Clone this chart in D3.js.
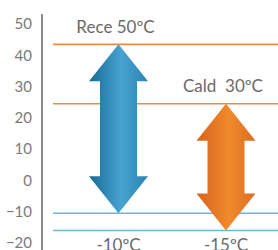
<!DOCTYPE html>
<html>
<head>
<meta charset="utf-8">
<script src="https://cdn.jsdelivr.net/npm/d3@7"></script>
<style>
  body { margin: 0; background: #fff; }
  svg { display: block; }
</style>
</head>
<body>
<svg class="chart-range" width="278" height="250"></svg>
<script>
// data
var names = ["Rece", "Cald"];
var labelTop = ["Rece 50ºC", "Cald\u00a0\u00a030ºC"];
var labelBottom = ["-10ºC", "-15ºC"];
var arrowTop = [43.5, 24.5];      // where the arrow tips / lines sit
var arrowBottom = [-10.5, -16];
var lineColor = ["#ef8a3c", "#6cb6dc"];
var yTicks = [50, 40, 30, 20, 10, 0, -10, -20];

var svg = d3.select("svg.chart-range");

var y = d3.scaleLinear().domain([50, -20]).range([24, 243]);
var x = d3.scalePoint().domain(names).range([118.5, 226]);

/* gradients for the arrows */
var defs = svg.append("defs");
function grad(id, c1, c2, c3) {
    var g = defs.append("linearGradient").attr("id", id)
        .attr("x1", "0%").attr("x2", "100%").attr("y1", "0%").attr("y2", "0%");
    g.append("stop").attr("offset", "0%").attr("stop-color", c1);
    g.append("stop").attr("offset", "55%").attr("stop-color", c2);
    g.append("stop").attr("offset", "100%").attr("stop-color", c3);
}
grad("g-rece", "#176b96", "#48a3d0", "#2a83b2");
grad("g-cald", "#d8621e", "#f08a2a", "#dd6c22");

/* axis */
var axis = d3.axisLeft(y).tickValues(yTicks).tickSize(0).tickPadding(10);
var ax = svg.append("g").attr("transform", "translate(42,0)").call(axis);
ax.select(".domain").remove();
ax.selectAll("text")
    .attr("font-family", "Lato, sans-serif")
    .attr("font-size", 15)
    .attr("fill", "#7a7a7a");
svg.append("line")
    .attr("x1", 42).attr("x2", 42).attr("y1", 14).attr("y2", 250)
    .attr("stroke", "#8c8c8c").attr("stroke-width", 2);

/* reference lines */
var lines = [];
names.forEach(function (n, i) {
    lines.push({ v: arrowTop[i], c: "#ef8a3c" });
});
lines.push({ v: arrowBottom[0], c: "#6cb6dc" });
lines.push({ v: arrowBottom[1], c: "#6cb6dc" });
svg.selectAll("line.ref").data(lines).enter()
    .append("line").attr("class", "ref")
    .attr("x1", 53).attr("x2", 278)
    .attr("y1", function (d) { return y(d.v); })
    .attr("y2", function (d) { return y(d.v); })
    .attr("stroke", function (d) { return d.c; })
    .attr("stroke-width", 1.6);

/* double arrows */
var headH = 37, headW = 29.5, shaftW = 18.5;
svg.selectAll("polygon.arrow").data(names).enter()
    .append("polygon").attr("class", "arrow")
    .attr("points", function (d, i) {
        var cx = x(d), t = y(arrowTop[i]), b = y(arrowBottom[i]);
        return [
            [cx, t], [cx + headW, t + headH], [cx + shaftW, t + headH],
            [cx + shaftW, b - headH], [cx + headW, b - headH], [cx, b],
            [cx - headW, b - headH], [cx - shaftW, b - headH],
            [cx - shaftW, t + headH], [cx - headW, t + headH]
        ].map(function (p) { return p.join(","); }).join(" ");
    })
    .attr("fill", function (d, i) { return i === 0 ? "url(#g-rece)" : "url(#g-cald)"; });

/* labels */
svg.selectAll("text.top").data(names).enter()
    .append("text").attr("class", "top")
    .attr("x", function (d) { return x(d) - 3; })
    .attr("y", function (d, i) { return y(arrowTop[i]) - (i === 0 ? 11 : 12); })
    .attr("text-anchor", "middle")
    .attr("font-family", "Lato, sans-serif")
    .attr("font-size", 17)
    .attr("fill", "#6a6a6a")
    .text(function (d, i) { return labelTop[i]; });

svg.selectAll("text.bottom").data(names).enter()
    .append("text").attr("class", "bottom")
    .attr("x", function (d) { return x(d); })
    .attr("y", 251)
    .attr("text-anchor", "middle")
    .attr("font-family", "Lato, sans-serif")
    .attr("font-size", 17)
    .attr("fill", "#6a6a6a")
    .text(function (d, i) { return labelBottom[i]; });
</script>
</body>
</html>
